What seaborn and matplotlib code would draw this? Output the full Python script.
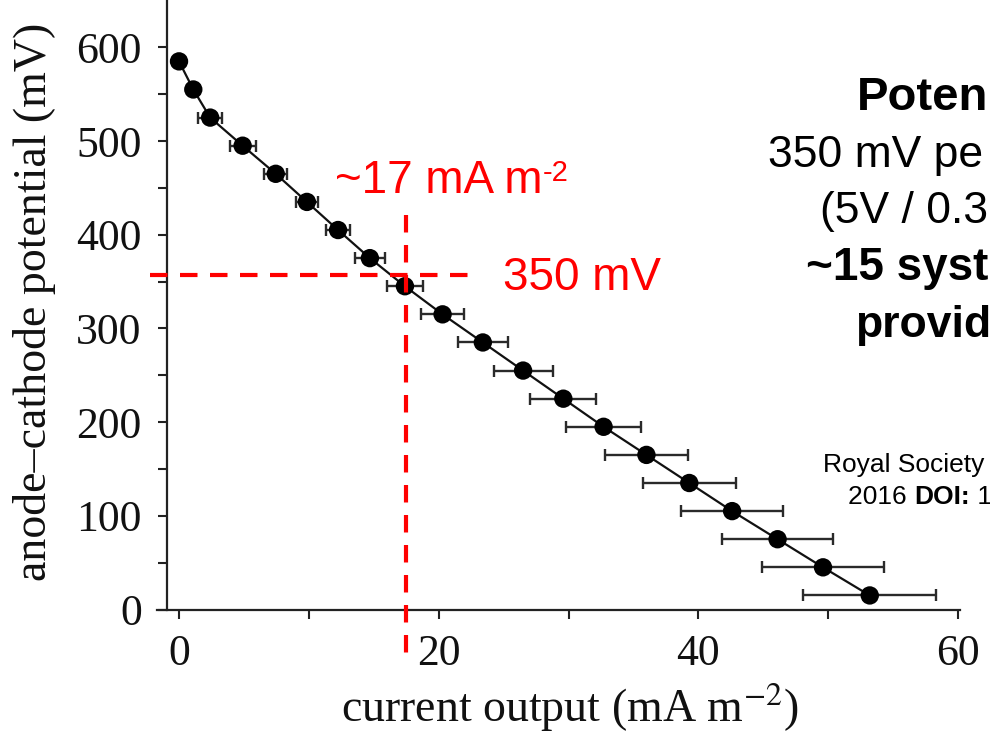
import matplotlib
matplotlib.use("Agg")
import matplotlib.pyplot as plt
import seaborn as sns
import pandas as pd

# ---------------- data ----------------
current = [0.0, 1.1, 2.4, 4.9, 7.45, 9.85, 12.25, 14.7, 17.4, 20.3,
           23.4, 26.5, 29.6, 32.7, 36.0, 39.3, 42.6, 46.1, 49.6, 53.2]
potential = [585, 555, 525, 495, 465, 435, 405, 375, 345, 315,
             285, 255, 225, 195, 165, 135, 105, 75, 45, 15]
current_err = [0.3, 0.4, 0.9, 1.0, 0.9, 0.85, 0.95, 1.15, 1.4, 1.65,
               1.9, 2.27, 2.54, 2.9, 3.2, 3.6, 3.93, 4.28, 4.7, 5.12]

x_major = [0, 20, 40, 60]
x_minor = [10, 30, 50]
y_major = [0, 100, 200, 300, 400, 500, 600]
y_minor = [50, 150, 250, 350, 450, 550]

ref_current = 17.45       # ~17 mA m-2 guide line
ref_potential = 357       # 350 mV guide line
hline_x = [-2.2, 23.0]
vline_y = [421, -50]

xlabel = "current output (mA m$^{-2}$)"
ylabel = "anode\u2013cathode potential (mV)"
ann_current = "~17 mA m"
ann_current_sup = "-2"
ann_potential = "350 mV"
side_lines = [("Poten", "bold"), ("350 mV pe", "normal"), ("(5V / 0.3", "normal"),
              ("~15 syst", "bold"), ("provid", "bold")]

df = pd.DataFrame({"current": current, "potential": potential, "err": current_err})

# ---------------- style ----------------
sns.set_style("ticks")
plt.rcParams["font.family"] = ["Liberation Serif", "DejaVu Serif"]
plt.rcParams["mathtext.fontset"] = "stix"

W, H = 990, 736
fig = plt.figure(figsize=(W / 100, H / 100), dpi=100)
ax = fig.add_axes([157 / W, (H - 609.5) / H, 803 / W, 609.5 / H])
ax.set_facecolor("none")

ax.errorbar(df["current"], df["potential"], xerr=df["err"], fmt="none",
            ecolor="#2a2a2a", elinewidth=1.7, capsize=4.3, capthick=1.7, zorder=2)
sns.lineplot(data=df, x="current", y="potential", sort=False, estimator=None,
             color="#111111", lw=1.6, ax=ax, zorder=3)
sns.scatterplot(data=df, x="current", y="potential", s=175, color="black",
                edgecolor="none", ax=ax, zorder=4)

# red guide lines
red = "#ff0000"
ax.plot(hline_x, [ref_potential, ref_potential], color=red, lw=3,
        ls=(0, (4.2, 3.0)), clip_on=False, zorder=5)
ax.plot([ref_current, ref_current], vline_y, color=red, lw=3,
        ls=(0, (4.2, 3.0)), clip_on=False, zorder=5)

ax.set_xlim(-1.695, 60.15)
ax.set_ylim(0, 650.5)
ax.set_xticks(x_major)
ax.set_xticks(x_minor, minor=True)
ax.set_yticks(y_major)
ax.set_yticks(y_minor, minor=True)
ax.tick_params(axis="both", which="both", direction="out", length=6.5,
               width=1.5, color="#222222", labelsize=31.5, labelcolor="#111111")
ax.tick_params(axis="y", pad=12)
ax.tick_params(axis="x", pad=11)

for s in ["top", "right"]:
    ax.spines[s].set_visible(False)
ax.spines["left"].set_position(("data", -0.9))
for s in ["left", "bottom"]:
    ax.spines[s].set_linewidth(1.6)
    ax.spines[s].set_color("#222222")

xl = ax.set_xlabel(xlabel, fontsize=33, color="#111111")
yl = ax.set_ylabel(ylabel, fontsize=33, color="#111111")
ax.xaxis.set_label_coords(570 / W, 1 - 708 / H, transform=fig.transFigure)
ax.yaxis.set_label_coords(35 / W, 1 - 302 / H, transform=fig.transFigure)
xl.set_va("center")
yl.set_va("center")

# red annotation text
sans = ["Liberation Sans", "DejaVu Sans"]
t1 = fig.text(335 / W, 1 - 193 / H, ann_current, color=red, fontsize=33,
              family=sans, va="baseline", ha="left")
ax.annotate(ann_current_sup, xy=(1.0, 1.0), xycoords=t1, color=red,
            fontsize=21, family=sans, va="top", ha="left")
fig.text(503 / W, 1 - 290 / H, ann_potential, color=red, fontsize=33,
         family=sans, va="baseline", ha="left")

# slide text (lines run to the right edge of the slide)
side_pos = [(988, 110, 34, "right"), (768, 167, 32, "left"), (988, 223, 32, "right"),
            (988, 280, 33, "right"), (855, 337, 32, "left")]
for (txt, wt), (px, py, fs, ha) in zip(side_lines, side_pos):
    fig.text(px / W, 1 - py / H, txt, color="black", fontsize=fs, family=sans,
             weight=wt, va="baseline", ha=ha)

fig.text(823 / W, 1 - 472 / H, "Royal Society", color="black", fontsize=19,
         family=sans, va="baseline", ha="left")
r1 = fig.text(848 / W, 1 - 504 / H, "2016 ", color="black", fontsize=19,
              family=sans, va="baseline", ha="left")
r2 = ax.annotate("DOI:", xy=(1.0, 0.0), xycoords=r1, color="black",
                 fontsize=19, family=sans, weight="bold", va="bottom", ha="left")
ax.annotate(" 1", xy=(1.0, 0.0), xycoords=r2, color="black",
            fontsize=19, family=sans, va="bottom", ha="left")

fig.savefig("out.png", dpi=100)
